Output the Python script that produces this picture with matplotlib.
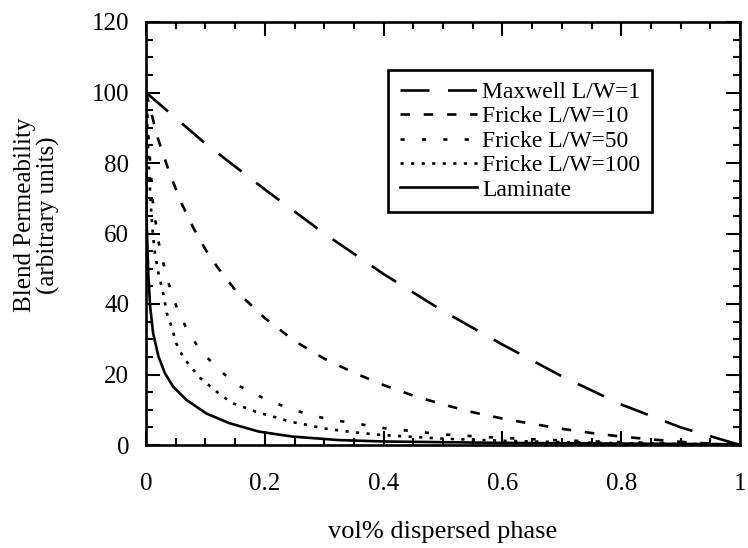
import matplotlib.pyplot as plt
from matplotlib.ticker import MultipleLocator

plt.rcParams['font.family'] = ['Liberation Serif', 'DejaVu Serif']

# values
x_maxwell = [0, 0.1, 0.2, 0.3, 0.4, 0.5, 0.6, 0.7, 0.8, 0.9, 1.0]
y_maxwell = [100, 85.5, 72.5, 60, 48.5, 38, 28.5, 19.5, 11.5, 5, 0]

x_f10 = [0, 0.02, 0.04, 0.06, 0.08, 0.1, 0.12, 0.15, 0.2, 0.25, 0.3, 0.35,
         0.4, 0.45, 0.5, 0.55, 0.6, 0.65, 0.7, 0.75, 0.8, 0.85, 0.9, 0.95, 1.0]
y_f10 = [100, 87, 77, 68.5, 61.5, 55.5, 50.5, 44, 36, 29.5, 24.5, 20.5,
         17, 14, 11.5, 9.3, 7.5, 6, 4.6, 3.4, 2.4, 1.6, 0.9, 0.4, 0]

x_f50 = [0, 0.005, 0.012, 0.021, 0.029, 0.039, 0.051, 0.066, 0.087, 0.118,
         0.154, 0.195, 0.23, 0.271, 0.307, 0.35, 0.4, 0.5, 0.6, 0.7, 0.8, 0.9, 1.0]
y_f50 = [100, 85, 68, 57.7, 51.7, 45.4, 39.4, 33.8, 27.9, 22, 17, 13.5,
         11.1, 8.8, 7.3, 6.2, 4.8, 3.0, 2.0, 1.3, 0.8, 0.4, 0]

x_f100 = [0, 0.004, 0.008, 0.012, 0.015, 0.021, 0.029, 0.035, 0.043, 0.051,
          0.062, 0.076, 0.092, 0.109, 0.128, 0.147, 0.165, 0.184, 0.204, 0.224,
          0.243, 0.263, 0.299, 0.35, 0.4, 0.5, 0.6, 0.7, 0.8, 0.9, 1.0]
y_f100 = [100, 82, 68, 59.1, 54.4, 48.7, 43, 37.4, 33.6, 28.8, 25.1, 22,
          18.9, 16.5, 13.9, 11.8, 10.7, 9.5, 8.5, 7.6, 6.6, 6.0, 4.7, 3.6,
          2.8, 1.8, 1.2, 0.8, 0.5, 0.3, 0.2]

x_lam = [0, 0.001, 0.004, 0.007, 0.012, 0.021, 0.032, 0.046, 0.068, 0.101,
         0.14, 0.19, 0.246, 0.324, 0.4, 0.5, 0.6, 0.7, 0.8, 0.9, 1.0]
y_lam = [100, 63.8, 48, 39.2, 31.7, 25.1, 20.3, 16.5, 12.8, 9.0, 6.2, 3.8,
         2.4, 1.4, 1.0, 0.8, 0.6, 0.5, 0.4, 0.3, 0.2]

labels = ['Maxwell L/W=1', 'Fricke L/W=10', 'Fricke L/W=50',
          'Fricke L/W=100', 'Laminate']

fig = plt.figure(figsize=(7.48, 5.48), dpi=100)
ax = fig.add_axes([146 / 748, 1 - 445 / 548, 594 / 748, 423 / 548])

lw = 1.9
ax.plot(x_maxwell, y_maxwell, color='black', lw=lw, ls=(0, (11, 7)), label=labels[0])
ax.plot(x_f10, y_f10, color='black', lw=lw, ls=(0, (3.6, 5.2)), label=labels[1])
ax.plot(x_f50, y_f50, color='black', lw=lw, ls=(0, (1.6, 6.5)), label=labels[2])
ax.plot(x_f100, y_f100, color='black', lw=lw, ls=(0, (1.2, 2.8)), label=labels[3])
ax.plot(x_lam, y_lam, color='black', lw=lw, ls='-', label=labels[4])

ax.set_xlim(0, 1)
ax.set_ylim(0, 120)
ax.set_xticks([0, 0.2, 0.4, 0.6, 0.8, 1.0])
ax.set_xticklabels(['0', '0.2', '0.4', '0.6', '0.8', '1'])
ax.set_yticks(range(0, 121, 20))
ax.xaxis.set_minor_locator(MultipleLocator(0.05))
ax.yaxis.set_minor_locator(MultipleLocator(5))
ax.tick_params(which='both', direction='in', top=True, right=True, width=1.5)
ax.tick_params(which='major', length=10)
ax.tick_params(which='minor', length=5)
ax.tick_params(axis='x', which='major', pad=20, labelsize=18)
ax.tick_params(axis='y', which='major', pad=12, labelsize=18)
for s in ax.spines.values():
    s.set_linewidth(1.9)

ax.set_xlabel('vol% dispersed phase', fontsize=19)
ax.xaxis.set_label_coords(0.5, -0.18)
ax.set_ylabel('Blend Permeability\n(arbitrary units)', fontsize=18, va='center',
              linespacing=1.05)
ax.yaxis.set_label_coords(-0.183, 0.544)

leg = ax.legend(loc='upper left', bbox_to_anchor=(0.407, 0.887), fontsize=17,
                handlelength=3.3, handletextpad=0.2, labelspacing=0.12,
                borderpad=0.5, borderaxespad=0, fancybox=False, framealpha=1,
                edgecolor='black')
leg.get_frame().set_linewidth(1.9)

fig.savefig('out.png', dpi=100)
